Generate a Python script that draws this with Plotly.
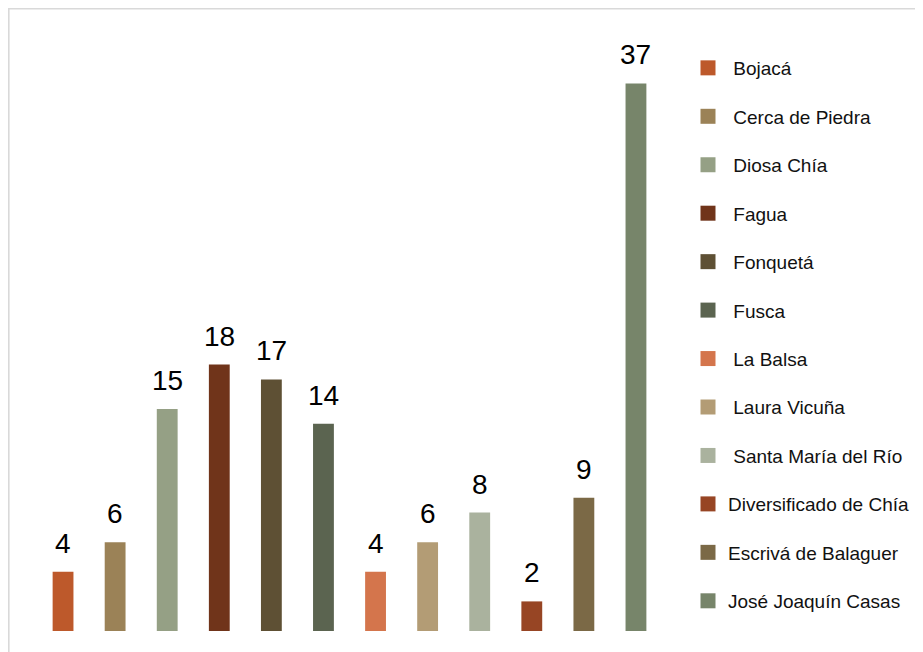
import plotly.graph_objects as go

# ---- data ----
schools = ["Bojacá", "Cerca de Piedra", "Diosa Chía", "Fagua", "Fonquetá", "Fusca",
           "La Balsa", "Laura Vicuña", "Santa María del Río",
           "Diversificado de Chía", "Escrivá de Balaguer", "José Joaquín Casas"]
values = [4, 6, 15, 18, 17, 14, 4, 6, 8, 2, 9, 37]
colors = ["#BD592B", "#9B8257", "#95A085", "#70341A", "#5E5034", "#5B6450",
          "#D4754C", "#B39C75", "#AAB29E", "#974524", "#7B6946", "#77856A"]
# labels shown in legend (first nine carry a leading space in the original)
legend_labels = ["\u00a0" + s for s in schools[:9]] + schools[9:]

# the page body adds an 8px margin, so the figure is sized to the visible area
W, H = 915, 644
ML, MR, MT, MB = 29, 261, 31, 21
PW, PH = W - ML - MR, H - MT - MB

def px2x(px):
    return (px - ML) / PW

def py2y(py):
    return (H - MB - py) / PH

FONT = "Liberation Sans, Arial, sans-serif"

fig = go.Figure()
xs = list(range(len(schools)))
for i, (s, v, c) in enumerate(zip(schools, values, colors)):
    fig.add_trace(go.Bar(x=[xs[i]], y=[v], marker=dict(color=c, line=dict(width=0)),
                         width=0.4, showlegend=False, name=s, hoverinfo="name+y"))
for i, (lab, c) in enumerate(zip(legend_labels, colors)):
    fig.add_trace(go.Scatter(x=[None], y=[None], mode="markers", name=lab,
                             legendgroup=schools[i],
                             marker=dict(symbol="square", size=15, color=c)))

annotations = []
for i, v in enumerate(values):
    annotations.append(dict(x=xs[i], y=v, text=str(v), showarrow=False,
                            yanchor="bottom", xanchor="center", yshift=11,
                            font=dict(size=28, color="#000000", family=FONT)))

# white frame with light grey border along the top and left edges
shapes = [dict(type="rect", xref="paper", yref="paper", layer="below",
               x0=px2x(0.8), x1=px2x(W + 20), y0=py2y(H + 20), y1=py2y(0.8),
               fillcolor="white", line=dict(color="#D9D9D9", width=1.6))]

fig.update_layout(
    width=W, height=H,
    margin=dict(l=ML, r=MR, t=MT, b=MB, pad=0, autoexpand=False),
    paper_bgcolor="white", plot_bgcolor="rgba(0,0,0,0)",
    barmode="overlay",
    font=dict(family=FONT, color="#000000"),
    xaxis=dict(range=[-0.5, 11.5], visible=False, fixedrange=True),
    yaxis=dict(range=[0, 40], visible=False, fixedrange=True),
    showlegend=True,
    legend=dict(x=px2x(680), xanchor="left", y=py2y(41), yanchor="top",
                font=dict(size=19, family=FONT, color="#111111"),
                tracegroupgap=20.75, traceorder="grouped",
                bgcolor="rgba(0,0,0,0)", borderwidth=0, itemclick=False),
    annotations=annotations,
    shapes=shapes,
)

fig.write_html("out.html")
